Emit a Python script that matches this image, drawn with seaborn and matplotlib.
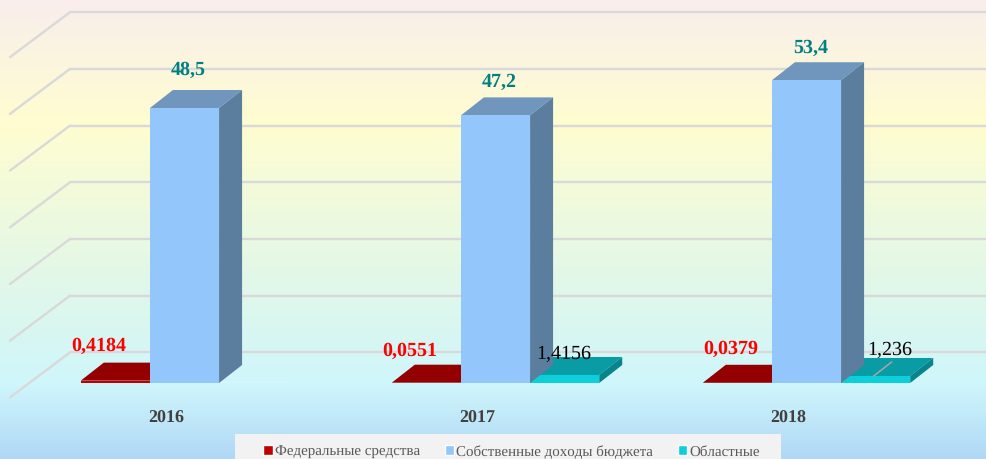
import numpy as np
import pandas as pd
import seaborn as sns
import matplotlib.pyplot as plt
from matplotlib.colors import LinearSegmentedColormap
from matplotlib.patches import Polygon, Rectangle
from matplotlib.transforms import Affine2D, IdentityTransform

years = ['2016', '2017', '2018']
federal = [0.4184, 0.0551, 0.0379]
own_income = [48.5, 47.2, 53.4]
regional = [0, 1.4156, 1.236]
federal_labels = ['0,4184', '0,0551', '0,0379']
own_labels = ['48,5', '47,2', '53,4']
regional_labels = ['', '1,4156', '1,236']
names = ['Федеральные средства', 'Собственные доходы бюджета', 'Областные']

df = pd.DataFrame({
    'year': years * 3,
    'source': np.repeat(names, 3),
    'value': federal + own_income + regional,
})

W, H = 987, 459
DEPTH_X, DEPTH_Y = 23, 18

sns.set_theme(style='white')
plt.rcParams['font.family'] = ['Liberation Serif', 'DejaVu Serif']
plt.rcParams['text.hinting'] = 'no_hinting'
plt.rcParams['text.hinting_factor'] = 1

fig = plt.figure(figsize=(W / 100, H / 100), dpi=100)

# page gradient
bg = fig.add_axes([0, 0, 1, 1], zorder=0)
stops = [(0, '#f9eeec'), (0.27, '#fffdd0'), (0.58, '#e4f8e6'), (0.84, '#cff6fb'), (1, '#b0d8f6')]
cmap = LinearSegmentedColormap.from_list('page', stops)
bg.imshow(np.linspace(0, 1, 256)[:, None], aspect='auto', cmap=cmap)
bg.axis('off')

# y=0 sits at pixel row 383, 5.67 px per unit, categories 311 px apart
ax = fig.add_axes([29 / W, (H - 383) / H, 933 / W, 340.2 / H], zorder=1)
ax.patch.set_alpha(0)
sns.barplot(data=df, x='year', y='value', hue='source', hue_order=names,
            palette=['#c00000', '#93c6fa', '#0bd0dc'], saturation=1,
            width=0.667, gap=0, ax=ax, legend=True)
ax.set_xlim(-0.5, 2.5)
ax.set_ylim(0, 60)
ax.set_xlabel('')
ax.set_ylabel('')
ax.set_yticks([])
sns.despine(ax=ax, left=True, bottom=True)


def disp(x, v, dx=0, dy=0):
    px, py = ax.transData.transform((x, v))
    return px + dx, py + dy


def shifted(dx, dy):
    return ax.transData + Affine2D().translate(dx, dy)


identity = IdentityTransform()

# back wall and side wall lines
grid_left = (70 - 184.5) / 311
grid_right = (987 - 184.5) / 311
for v in range(0, 70, 10):
    ax.plot([grid_left, grid_right], [v, v], color='#d9d9d9', lw=1.7,
            transform=shifted(0, 30.6), zorder=0.5, clip_on=False)
    a = disp(grid_left, v, -60, -14.4)
    b = disp(grid_left, v, 0, 30.6)
    ax.plot([a[0], b[0]], [a[1], b[1]], color='#d9d9d9', lw=1.7,
            transform=identity, zorder=0.5, clip_on=False)

# 3d faces on top of the flat seaborn bars
faces = [('#940000', '#7a0000', 1), ('#7096bd', '#5b7e9e', 3), ('#0a9ca5', '#08858c', 2)]
for container, (top_col, side_col, z) in zip(ax.containers, faces):
    for bar in container:
        x0, x1 = bar.get_x(), bar.get_x() + bar.get_width()
        h = bar.get_height()
        if h == 0:
            continue
        bar.set_zorder(z + 0.5)
        bar.set_edgecolor('none')
        top = [disp(x0, h), disp(x1, h), disp(x1, h, DEPTH_X, DEPTH_Y), disp(x0, h, DEPTH_X, DEPTH_Y)]
        side = [disp(x1, 0), disp(x1, 0, DEPTH_X, DEPTH_Y), disp(x1, h, DEPTH_X, DEPTH_Y), disp(x1, h)]
        ax.add_patch(Polygon(top, closed=True, fc=top_col, ec='none', transform=identity, zorder=z, clip_on=False))
        ax.add_patch(Polygon(side, closed=True, fc=side_col, ec='none', transform=identity, zorder=z, clip_on=False))


def put_label(container, i, text, dx, dy, **kw):
    bar = container[i]
    ax.annotate(text, (bar.get_x() + bar.get_width() / 2, bar.get_height()),
                xytext=(dx * 0.72, dy * 0.72), textcoords='offset points',
                ha='center', va='center', zorder=6, annotation_clip=False, **kw)


bold_red = dict(color='#ff0000', fontsize=14.4, fontweight='bold')
bold_teal = dict(color='#008080', fontsize=14.4, fontweight='bold')
plain = dict(color='#000000', fontsize=14.4)
for i, (dx, dy) in enumerate([(-17, 35), (-17, 32), (-7, 34)]):
    put_label(ax.containers[0], i, federal_labels[i], dx, dy, **bold_red)
for i, (dx, dy) in enumerate([(3.5, 38), (4, 33), (4.5, 32)]):
    put_label(ax.containers[1], i, own_labels[i], dx, dy, **bold_teal)
put_label(ax.containers[2], 1, regional_labels[1], -1, 21, **plain)
put_label(ax.containers[2], 2, regional_labels[2], 14, 26, **plain)

# leader line of the 2018 regional label
bar = ax.containers[2][2]
x_mid = bar.get_x() + bar.get_width() / 2
a = disp(x_mid, bar.get_height(), -2, 0)
b = disp(x_mid, bar.get_height(), 16, 14)
ax.plot([a[0], b[0]], [a[1], b[1]], color='#a6a6a6', lw=1.1, transform=identity, zorder=5, clip_on=False)

# year labels are centred under the whole 3d group, not the blue bar
ax.tick_params(axis='x', length=0, pad=19.4)
for tick in ax.get_xticklabels():
    tick.set_fontsize(13)
    tick.set_fontweight('bold')
    tick.set_color('#404040')
    tick.set_transform(tick.get_transform() + Affine2D().translate(-18.5, 0))

# legend strip at the bottom edge
handles, labels = ax.get_legend_handles_labels()
ax.get_legend().remove()
fig.add_artist(Rectangle((235 / W, 0), 546 / W, 25 / H, fc='#f2f2f2', ec='none',
                         transform=fig.transFigure, zorder=2))
leg = fig.legend(handles, labels, ncol=3, frameon=False, loc='center',
                 bbox_to_anchor=(511.5 / W, 7 / H), fontsize=10.9, labelcolor='#595959',
                 handlelength=0.62, handleheight=0.62, handletextpad=0.13,
                 columnspacing=1.65, borderpad=0, borderaxespad=0)
leg.set_zorder(3)

fig.savefig('out.png', dpi=100)
